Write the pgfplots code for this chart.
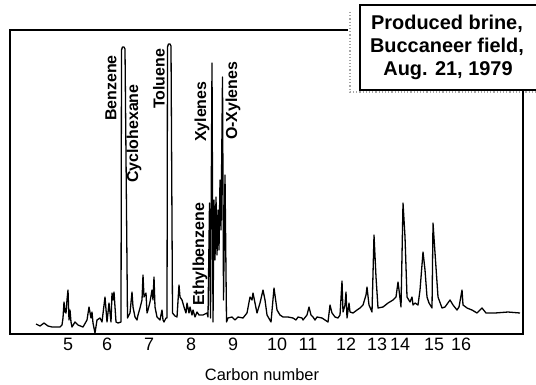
\documentclass[border=0pt]{standalone}
\usepackage{pgfplots}
\pgfplotsset{compat=1.18}
\usepackage{fontspec}
\setmainfont{Liberation Sans}
\begin{document}
\begin{tikzpicture}[x=1bp,y=1bp]
\useasboundingbox (0,0) rectangle (536,384);
\begin{axis}[
  at={(10bp,50bp)}, anchor=south west,
  scale only axis, width=513bp, height=304bp,
  xmin=10, xmax=523, ymin=30, ymax=334, y dir=reverse,
  axis line style={line width=1.7bp},
  xtick={68,107,149,191,233,277,308,346,377,400,434,461},
  xticklabels={5,6,7,8,9,10,11,12,13,14,15,16},
  ytick=\empty,
  major tick length=0pt,
  tick label style={font=\fontsize{18}{18}\selectfont, inner sep=4bp},
  clip=false,
]
\addplot[black, line width=1.3bp, line join=round] coordinates {
(36,324) (40,326) (44,323) (48,326) (52,327) (60,327) (62,325) (63,318) (64,302) (65,312) (66,313) (67,300) (68,290) (69,320) (70,310) (71,322) (72,327) (75,322) (78,325) (83,327) (87,320) (89,307) (91,318) (92,312) (93,323) (95,333) (97,320) (100,318) (102,322) (105,297) (107,322) (109,303) (111,322) (112,293) (113,300) (114,292) (116,322) (118,323) (121,322)
(121.5,50) (122.5,47) (124,47) (125,49) (127.5,318)
(130,313) (132,292) (133,307) (135,317) (137,320) (138,315) (140,308) (142,300) (143,275) (144,297) (146,293) (147,313) (148,310) (150,302) (152,290) (153,300) (154,277) (155,307) (157,317) (160,320) (162,310) (163,320) (164,322) (166,318) (167,318)
(167.5,47) (168.5,44) (170,44) (171,46) (172.5,313)
(175,316) (177,317) (179,285) (180,297) (182,300) (184,307) (186,313) (187,303) (189,313) (190,307) (192,315) (193,310) (195,317) (197,312) (199,315) (203,315) (207,313) (208,317)
(209.5,203) (210.5,318) (212,63) (213,322) (214,200) (215,260) (216,197) (217,255) (218,210) (219,250) (220,180) (221,230) (222.5,77) (223.5,300) (225,175) (226.5,322) (228,318)
(232,317) (235,320) (238,317) (243,318) (247,313) (250,297) (252,300) (253,293) (257,313) (260,303) (263,290) (265,300) (267,315) (271,322) (274,288) (277,310) (280,315) (283,317) (288,317) (293,318) (296,320) (298,317) (302,318) (303,320) (307,315) (309,307) (311,315) (313,317) (315,320) (317,317) (322,318) (325,320) (328,322) (330,305) (332,313) (335,317) (338,318) (340,315) (342,281) (343,312) (345,305) (346,292) (347,318) (349,303) (350,312) (353,313) (357,310) (360,308) (363,305) (366,295) (367,287) (369,305) (372,312) (374,235) (376,277) (378,308) (383,307) (388,303) (393,300) (396,297) (398,282) (399,290) (401,307) (403,203) (405,237) (407,297) (410,302) (412,297) (413,305) (415,303) (418,305) (420,290) (423,252) (425,270) (427,297) (429,303) (432,308) (433,223) (435,253) (438,297) (442,308) (445,307) (450,300) (453,305) (457,310) (459,307) (462,290) (463,305) (467,308) (472,310) (477,313) (482,308) (486,313) (495,313) (508,312) (520,313)
};
\end{axis}
% peak labels (pixel coordinates -> y = 384 - py)
\tikzset{pk/.style={rotate=90, anchor=west, inner sep=0pt, font=\bfseries\fontsize{16}{16}\selectfont}}
\node[pk] at (111,384-121) {Benzene};
\node[pk] at (134,384-183) {Cyclohexane};
\node[pk] at (159,384-109) {Toluene};
\node[pk] at (202,384-142) {Xylenes};
\node[pk] at (233,384-140) {O-Xylenes};
\node[pk] at (200,384-306) {Ethylbenzene};
% x label
\node[font=\fontsize{16.5}{16.5}\selectfont, inner sep=0pt] at (262,384-375) {Carbon number};
% annotation box
\fill[white] (348,384-94) rectangle (545,384-2);
\draw[gray!70, line width=1.2bp, dotted] (350,384-12) -- (350,384-92) -- (545,384-92);
\draw[black, line width=1.3bp, fill=white] (545,384-5) -- (360,384-5) -- (360,384-90) -- (545,384-90);
\draw[black, line width=1.7bp] (523,384-91) -- (523,384-334);
\begin{scope}[every node/.style={anchor=base, inner sep=0pt, font=\bfseries\fontsize{20}{20}\selectfont}]
\node at (447,384-29) {Produced brine,};
\node at (447,384-52) {Buccaneer field,};
\node at (448,384-75) {Aug. 21, 1979};
\end{scope}
\end{tikzpicture}
\end{document}
